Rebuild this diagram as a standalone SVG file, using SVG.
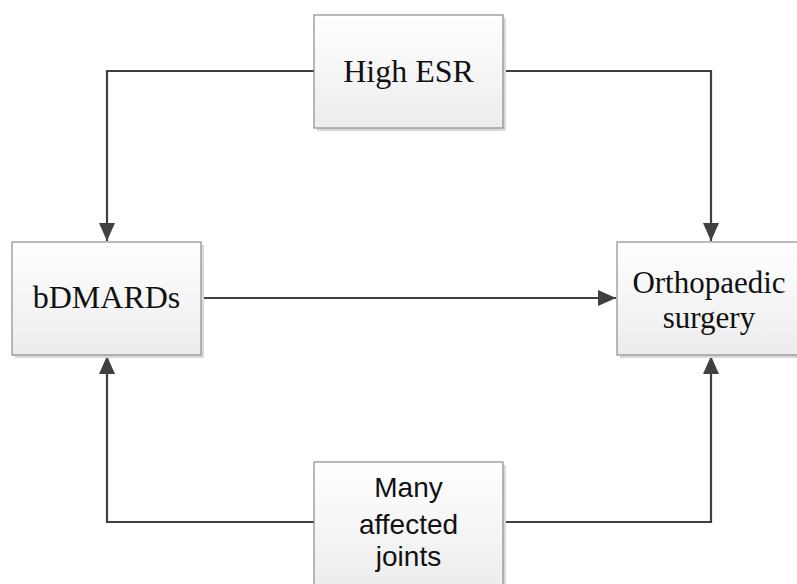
<svg xmlns="http://www.w3.org/2000/svg" width="797" height="584" viewBox="0 0 797 584">
  <style>
    .box { fill: url(#boxFill); stroke: #8c8c8c; stroke-width: 1.2; }
    .shadow { fill: #d9d9d9; }
    .serif { font-family: "Liberation Serif", "Times New Roman", serif; font-size: 32px; fill: #111; text-anchor: middle; }
    .serif.two-line { font-size: 31px; }
    .sans { font-family: "Liberation Sans", Arial, sans-serif; font-size: 28px; fill: #111; text-anchor: middle; }
    .wire { fill: none; stroke: #404040; stroke-width: 2.2; }
  </style>
  <defs>
    <linearGradient id="boxFill" x1="0" y1="0" x2="0" y2="1">
      <stop offset="0" stop-color="#ffffff"/>
      <stop offset="1" stop-color="#ececec"/>
    </linearGradient>
    <marker id="arrow" viewBox="0 0 18 16" refX="18" refY="8" markerWidth="18" markerHeight="16" markerUnits="userSpaceOnUse" orient="auto">
      <path d="M0,0 L18,8 L0,16 Z" fill="#404040"/>
    </marker>
  </defs>

  <rect width="797" height="584" fill="#ffffff"/>

  <g id="connectors">
    <path class="wire" d="M314,71 H107 V241" marker-end="url(#arrow)"/>
    <path class="wire" d="M503,71 H711 V241" marker-end="url(#arrow)"/>
    <path class="wire" d="M201,298 H616" marker-end="url(#arrow)"/>
    <path class="wire" d="M314,522 H107 V356" marker-end="url(#arrow)"/>
    <path class="wire" d="M503,522 H711 V356" marker-end="url(#arrow)"/>
  </g>

  <g id="high-esr">
    <rect class="shadow" x="317" y="18" width="189" height="113"/>
    <rect class="box" x="314" y="15" width="189" height="113"/>
    <text class="serif" x="408.5" y="82">High ESR</text>
  </g>

  <g id="bdmards">
    <rect class="shadow" x="15" y="245" width="189" height="113"/>
    <rect class="box" x="12" y="242" width="189" height="113"/>
    <text class="serif" x="106.5" y="308">bDMARDs</text>
  </g>

  <g id="orthopaedic-surgery">
    <rect class="shadow" x="620" y="245" width="189" height="113"/>
    <rect class="box" x="617" y="242" width="189" height="113"/>
    <text class="serif two-line" x="709" y="293">Orthopaedic</text>
    <text class="serif two-line" x="709" y="328">surgery</text>
  </g>

  <g id="many-affected-joints">
    <rect class="shadow" x="317" y="465" width="189" height="130"/>
    <rect class="box" x="314" y="462" width="189" height="130"/>
    <text class="sans" x="408.5" y="497">Many</text>
    <text class="sans" x="408.5" y="534">affected</text>
    <text class="sans" x="408.5" y="566">joints</text>
  </g>
</svg>
